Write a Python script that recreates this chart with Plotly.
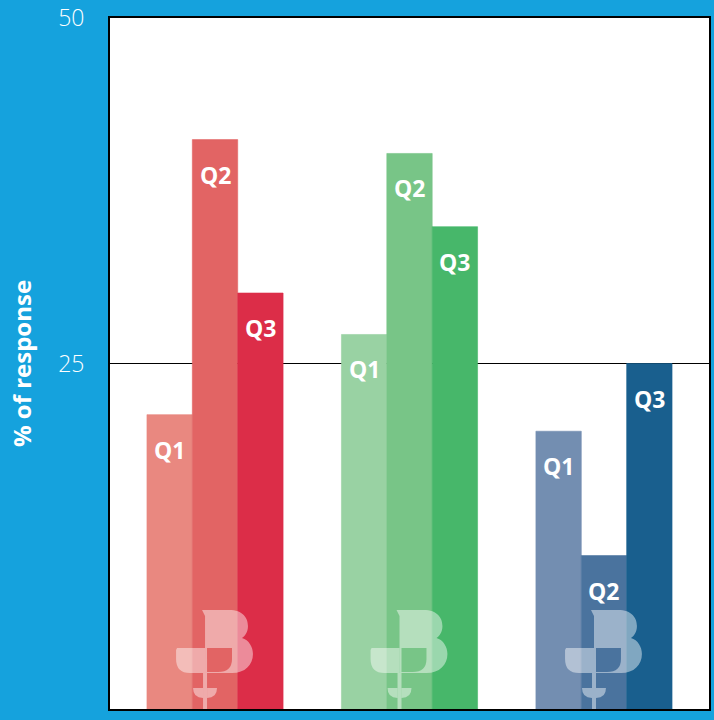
import plotly.graph_objects as go

# ---- data ----
groups = ["Group A", "Group B", "Group C"]
series = ["Q1", "Q2", "Q3"]
q1_values = [21.3, 27.1, 20.1]
q2_values = [41.2, 40.2, 11.1]
q3_values = [30.1, 34.9, 25.0]
q1_colors = ["#e98880", "#99d2a3", "#738eb1"]
q2_colors = ["#e26464", "#78c587", "#4a739e"]
q3_colors = ["#dc2d48", "#47b76a", "#195f8e"]
y_ticks = [0, 25, 50]

values = [q1_values, q2_values, q3_values]
colors = [q1_colors, q2_colors, q3_colors]

BG = "#15a2dd"
FONT = "Open Sans"
X_RANGE = [-0.54, 2.54]
BARGAP = 0.3

fig = go.Figure()
for name, vals, cols in zip(series, values, colors):
    fig.add_trace(go.Bar(
        x=groups, y=vals, name=name,
        marker=dict(color=cols, line=dict(width=0.6, color=cols)),
        hoverinfo="x+y+name",
    ))

# labels inside bars
bw = (1 - BARGAP) / len(series)
annotations = []
for k, (name, vals) in enumerate(zip(series, values)):
    for i, v in enumerate(vals):
        annotations.append(dict(
            x=i + (k - 1) * bw, y=v, xref="x", yref="y",
            text=f"<b>{name}</b>", showarrow=False,
            yanchor="middle", yshift=-35,
            font=dict(family=FONT, size=23, color="white", weight=800),
        ))

# logo (decorative) in each group, defined in pixel offsets from group centre / plot bottom
PLOT_W, PLOT_H = 600.0, 691.0

def conv(i, dx, up):
    xd = (i - X_RANGE[0]) / (X_RANGE[1] - X_RANGE[0]) + dx / PLOT_W
    yd = up / PLOT_H
    return xd, yd

def path_from(i, cmds):
    out = []
    for c in cmds:
        op = c[0]
        pts = c[1:]
        coords = []
        for j in range(0, len(pts), 2):
            xd, yd = conv(i, pts[j], pts[j + 1])
            coords.append(f"{xd:.5f},{yd:.5f}")
        out.append(op + " " + " ".join(coords))
    return " ".join(out) + " Z"

B_shape = [("M", -13, 99), ("L", 14, 99), ("C", 28, 99, 33, 91, 33, 83),
           ("C", 33, 77, 30, 73, 27, 71), ("C", 34, 69, 38, 62, 38, 55),
           ("C", 38, 44, 30, 36, 17, 36), ("L", -10, 36), ("L", -10, 93)]
left_leaf = [("M", -38, 61), ("L", -10, 61), ("L", -10, 36), ("L", -25, 36),
             ("Q", -39, 36, -39, 50), ("L", -39, 59)]
cut_leaf = [("M", -8, 61), ("L", 17, 61), ("L", 17, 50), ("Q", 17, 37, 3, 37), ("L", -8, 37)]
stem = [("M", -12, 0), ("L", -8, 0), ("L", -8, 36), ("L", -12, 36)]
small_l = [("M", -22, 21), ("L", -12, 21), ("L", -12, 11), ("Q", -22, 11, -22, 21)]
small_r = [("M", -8, 21), ("L", 2, 21), ("Q", 2, 11, -8, 11)]

shapes = []
LOGO = "rgba(255,255,255,0.45)"
for i in range(len(groups)):
    for part in (B_shape, left_leaf, stem, small_l, small_r):
        shapes.append(dict(type="path", xref="x domain", yref="y domain",
                           path=path_from(i, part), fillcolor=LOGO,
                           line=dict(width=0), layer="above"))
    shapes.append(dict(type="path", xref="x domain", yref="y domain",
                       path=path_from(i, cut_leaf), fillcolor=q2_colors[i],
                       line=dict(width=0), layer="above"))

fig.update_layout(
    width=714, height=720,
    paper_bgcolor=BG, plot_bgcolor="white",
    margin=dict(l=110, r=5, t=18, b=11, autoexpand=False),
    barmode="group", bargap=BARGAP, bargroupgap=0,
    showlegend=False,
    font=dict(family=FONT, color="white"),
    annotations=annotations,
    shapes=shapes,
    xaxis=dict(range=X_RANGE, showticklabels=False, ticks="", automargin=False,
               showline=True, linecolor="black", linewidth=2, mirror=True,
               showgrid=False, zeroline=False, fixedrange=True),
    yaxis=dict(range=[0, 50], tickvals=y_ticks, ticks="", automargin=False,
               ticklabelstandoff=19,
               tickfont=dict(family=FONT, size=23, color="white", weight=300),
               showgrid=True, gridcolor="black", gridwidth=1,
               showline=True, linecolor="black", linewidth=2, mirror=True,
               zeroline=False, fixedrange=True,
               title=dict(text="% of response", standoff=20,
                          font=dict(family=FONT, size=24, color="white", weight="bold"))),
)

fig.write_html("out.html",
               config={"displayModeBar": False},
               post_script="document.body.style.margin='0';document.body.style.background='" + BG + "';")
